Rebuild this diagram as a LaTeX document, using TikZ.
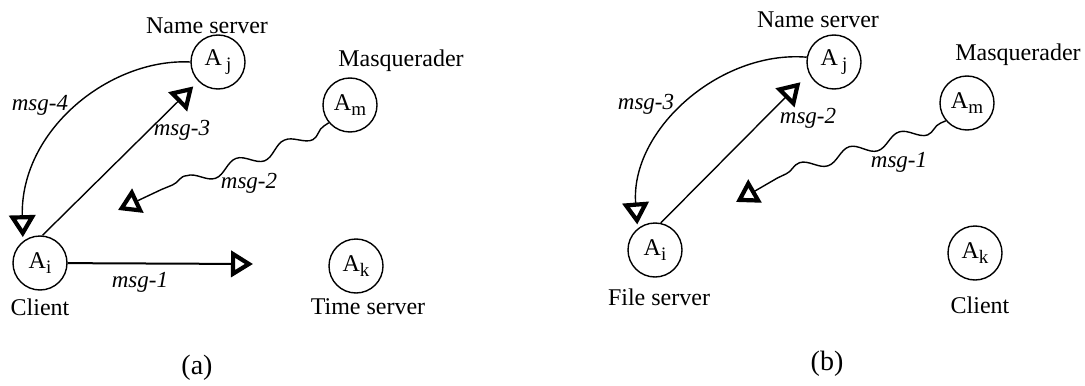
\documentclass[tikz,border=0pt]{standalone}
\usepackage{fontspec}
\setmainfont{Liberation Serif}
\usetikzlibrary{arrows.meta,decorations.pathmorphing}

\newcommand{\agentname}[2]{A#1\raisebox{-0.45ex}{\fontsize{9.5}{10}\selectfont #2}}

\begin{document}
\begin{tikzpicture}[x=0.5pt, y=-0.5pt,
  agent/.style={circle, draw, line width=0.7pt, minimum size=27pt, inner sep=0pt,
                font=\fontsize{12}{14}\selectfont},
  role/.style={font=\fontsize{12}{14}\selectfont},
  msg/.style={font=\fontsize{11.5}{13}\selectfont\itshape},
  caption/.style={font=\fontsize{14}{16}\selectfont},
  arrow/.style={-{Triangle[open, length=11pt, width=13pt, line width=2.1pt]}, line width=0.7pt},
  wave/.style={arrow, decorate, decoration={snake, amplitude=3pt, segment length=26pt,
               pre length=3pt, post length=24pt}}
]
\useasboundingbox (0,0) rectangle (1085,385);

% (a): Agents
\node[agent] (aj) at (218,62)  {\agentname{\,}{j}};
\node[agent] (am) at (350,105) {\agentname{}{m}};
\node[agent] (ai) at (40,263)  {\agentname{}{i}};
\node[agent] (ak) at (356,266) {\agentname{}{k}};

\node[role] (ajname) at (207,26)  {Name server};
\node[role] (amname) at (401,61)  {Masquerader};
\node[role] (ainame) at (40,307)  {Client};
\node[role] (akname) at (368,307) {Time server};

% (a): Messages
\coordinate (a1tip) at (253,264);
\coordinate (a2tip) at (118,210);
\draw[arrow, line width=1pt] (ai) -- (a1tip);
\draw[wave] (am.220) .. controls (290,150) and (180,175) .. (a2tip);
\draw[arrow, shorten >=3.5pt] (ai.85) -- (aj);
\draw[arrow, shorten >=2pt] (aj.west) .. controls (110,58) and (20,130) .. (ai.128);

\node[msg] (a1) at (140,282) {msg-1};
\node[msg] (a2) at (249,183) {msg-2};
\node[msg] (a3) at (182,130) {msg-3};
\node[msg] (a4) at (40,105)  {msg-4};

\node[caption] (capa) at (197,368) {(a)};

% (b): Agents
\node[agent] (bj) at (834,62)  {\agentname{\,}{j}};
\node[agent] (bm) at (967,103) {\agentname{}{m}};
\node[agent] (bi) at (655,250) {\agentname{}{i}};
\node[agent] (bk) at (975,253) {\agentname{}{k}};

\node[role] (bjname) at (818,20)  {Name server};
\node[role] (bmname) at (1018,55) {Masquerader};
\node[role] (biname) at (659,297) {File server};
\node[role] (bkname) at (980,305) {Client};

% (b): Messages
\coordinate (b1tip) at (736,202);
\draw[wave] (bm.220) .. controls (905,140) and (790,160) .. (b1tip);
\draw[arrow, shorten >=6pt] (bi.78) -- (bj.205);
\draw[arrow, shorten >=2pt] (bj.170) .. controls (720,50) and (630,130) .. (bi.129);

\node[msg] (b1) at (899,162) {msg-1};
\node[msg] (b2) at (808,118) {msg-2};
\node[msg] (b3) at (646,104) {msg-3};

\node[caption] (capb) at (827,364) {(b)};
\end{tikzpicture}
\end{document}
